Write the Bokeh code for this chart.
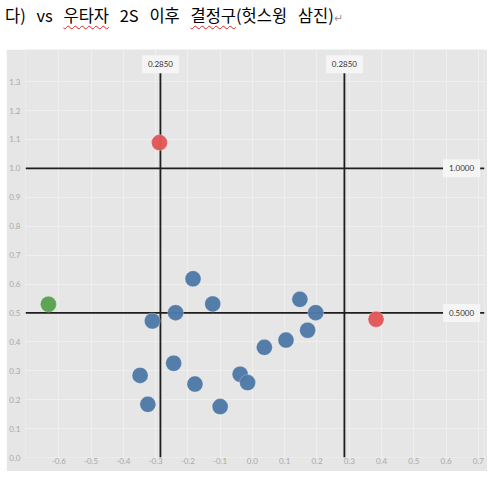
from bokeh.plotting import figure
from bokeh.models import Div, Label, FixedTicker, NumeralTickFormatter, Range1d
from bokeh.layouts import column
from bokeh.embed import file_html
from bokeh.resources import INLINE

# ---- data ----
title_parts = ["다) vs", "우타자", "2S", "이후", "결정구", "(헛스윙", "삼진)"]

blue_x = [-0.184, -0.123, -0.238, -0.310, -0.244, -0.348, -0.178, -0.038,
          -0.015, -0.324, -0.100, 0.037, 0.104, 0.147, 0.196, 0.171]
blue_y = [0.618, 0.531, 0.501, 0.472, 0.326, 0.284, 0.254, 0.288,
          0.259, 0.184, 0.176, 0.381, 0.406, 0.547, 0.501, 0.440]
red_x = [0.383, -0.288]
red_y = [0.478, 1.089]
green_x = [-0.632]
green_y = [0.530]

ref_x = [-0.285, 0.285]
ref_x_labels = ["0.2850", "0.2850"]
ref_y = [0.5, 1.0]
ref_y_labels = ["0.5000", "1.0000"]

x_ticks = [-0.6, -0.5, -0.4, -0.3, -0.2, -0.1, 0.0, 0.1, 0.2, 0.3, 0.4, 0.5, 0.6, 0.7]
y_ticks = [0.0, 0.1, 0.2, 0.3, 0.4, 0.5, 0.6, 0.7, 0.8, 0.9, 1.0, 1.1, 1.2, 1.3]

# ---- styling ----
BG = "#e6e6e6"
GRID = "#efefef"
TICK = "#a9a9a9"
FONT = "Lato"
X0, X1 = -0.703, 0.719
Y0, Y1 = 0.0, 1.411

ul = "text-decoration: underline wavy #e02020; text-decoration-thickness:1px; text-underline-offset:3px;"
html = (
    '<div style="font-family:\'Noto Sans CJK KR\'; font-size:16.5px; color:#000; '
    'white-space:nowrap; word-spacing:7px; line-height:20px;">'
    f'{title_parts[0]} <span style="{ul}">{title_parts[1]}</span> {title_parts[2]} '
    f'{title_parts[3]} <span style="{ul}">{title_parts[4]}</span>{title_parts[5]} {title_parts[6]}'
    '<span style="color:#999; font-size:11px;">&#8629;</span></div>'
)
title = Div(text=html, width=475, height=39)

p = figure(width=481, height=422, output_backend="svg", toolbar_location=None,
           x_range=Range1d(X0, X1), y_range=Range1d(Y0, Y1),
           min_border_left=16, min_border_right=3, min_border_top=0, min_border_bottom=14,
           background_fill_color=BG, border_fill_color=BG, outline_line_color=None)
p.margin = (0, 0, 0, 6)

p.xaxis.ticker = FixedTicker(ticks=x_ticks)
p.yaxis.ticker = FixedTicker(ticks=y_ticks)
for ax in (p.xaxis, p.yaxis):
    ax.formatter = NumeralTickFormatter(format="0.0")
    ax.axis_line_color = None
    ax.major_tick_line_color = None
    ax.minor_tick_line_color = None
    ax.major_tick_out = 0
    ax.major_tick_in = 0
    ax.minor_tick_out = 0
    ax.minor_tick_in = 0
    ax.major_label_text_font = FONT
    ax.major_label_text_font_size = "8px"
    ax.major_label_text_color = TICK
p.xaxis.major_label_standoff = 0
p.yaxis.major_label_standoff = 5
p.xgrid.grid_line_color = GRID
p.ygrid.grid_line_color = GRID

# reference lines
p.segment(x0=ref_x, y0=[Y0, Y0], x1=ref_x, y1=[1.33, 1.33], line_color="#1e1e1e", line_width=1.8)
p.segment(x0=[X0, X0], y0=ref_y, x1=[X1, X1], y1=ref_y, line_color="#1e1e1e", line_width=1.8)

# points
p.scatter(blue_x, blue_y, size=16, fill_color="#4e79a7", line_color="white", line_alpha=0.25, fill_alpha=0.97)
p.scatter(red_x, red_y, size=16, fill_color="#e15759", line_color="white", line_alpha=0.25, fill_alpha=0.97)
p.scatter(green_x, green_y, size=16, fill_color="#59a14f", line_color="white", line_alpha=0.25, fill_alpha=0.97)

# reference labels
for xv, t in zip(ref_x, ref_x_labels):
    p.add_layout(Label(x=xv, y=1.36, text=t, text_align="center", text_baseline="middle",
                       text_font=FONT, text_font_size="8px", text_color="#333333",
                       background_fill_color="#f5f5f5", padding=6))
for yv, t in zip(ref_y, ref_y_labels):
    p.add_layout(Label(x=0.648, y=yv, text=t, text_align="center", text_baseline="middle",
                       text_font=FONT, text_font_size="8px", text_color="#333333",
                       background_fill_color="#f5f5f5", padding=6))

layout = column(title, p, spacing=0)
open("out.html", "w").write(file_html(layout, INLINE))
